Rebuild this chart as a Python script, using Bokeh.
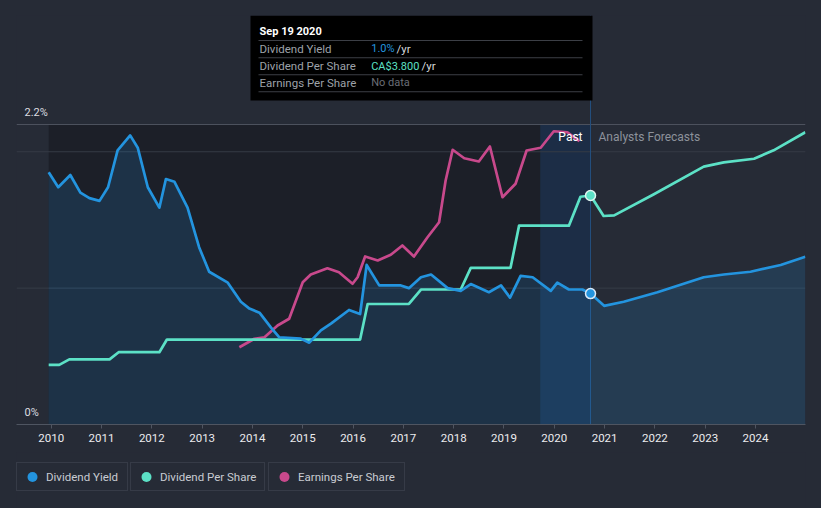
from bokeh.plotting import figure
from bokeh.layouts import column
from bokeh.models import Range1d, FixedTicker, Span, BoxAnnotation, Label, Legend, LegendItem
from bokeh.embed import file_html
from bokeh.resources import INLINE

# ---------------- data ----------------
YEAR_TICKS = list(range(2010, 2025))
Y_TICKS = [0.0, 2.2]
Y_TICK_LABELS = ["0%", "2.2%"]
GRID_LEVELS = [1.0, 2.0]

HOVER_DATE = 2020.72          # Sep 19 2020
HOVER_TITLE = "Sep 19 2020"

yield_past_t = [2009.95, 2010.14, 2010.38, 2010.58, 2010.76, 2010.96, 2011.13, 2011.32,
                2011.57, 2011.72, 2011.92, 2012.15, 2012.28, 2012.45, 2012.71, 2012.94,
                2013.14, 2013.51, 2013.77, 2013.94, 2014.14, 2014.37, 2014.53, 2014.96,
                2015.13, 2015.36, 2015.56, 2015.92, 2016.14, 2016.27, 2016.52, 2016.95,
                2017.11, 2017.35, 2017.55, 2017.88, 2018.14, 2018.34, 2018.70, 2018.94,
                2019.12, 2019.33, 2019.57, 2019.93, 2020.06, 2020.29, 2020.56, 2020.72]
yield_past_v = [1.85, 1.74, 1.83, 1.70, 1.66, 1.64, 1.74, 2.01,
                2.12, 2.03, 1.74, 1.59, 1.80, 1.78, 1.59, 1.30,
                1.12, 1.04, 0.90, 0.85, 0.82, 0.71, 0.64, 0.63,
                0.60, 0.69, 0.74, 0.84, 0.81, 1.17, 1.02, 1.02,
                1.00, 1.08, 1.10, 1.00, 0.98, 1.03, 0.97, 1.02,
                0.93, 1.09, 1.08, 0.98, 1.04, 0.99, 0.99, 0.96]
yield_fc_t = [2020.99, 2021.38, 2022.05, 2022.97, 2023.37, 2023.90, 2024.50, 2024.99]
yield_fc_v = [0.87, 0.90, 0.97, 1.08, 1.10, 1.12, 1.17, 1.23]

dps_past_t = [2009.95, 2010.16, 2010.36, 2011.16, 2011.34, 2012.15, 2012.30, 2016.14,
              2016.29, 2017.11, 2017.35, 2018.14, 2018.34, 2019.13, 2019.30, 2020.29,
              2020.52, 2020.72]
dps_past_v = [0.99, 0.99, 1.08, 1.08, 1.20, 1.20, 1.41, 1.41,
              2.00, 2.00, 2.24, 2.24, 2.60, 2.60, 3.30, 3.30,
              3.78, 3.80]
dps_fc_t = [2020.98, 2021.19, 2021.98, 2022.97, 2023.37, 2023.97, 2024.36, 2024.99]
dps_fc_v = [3.46, 3.47, 3.82, 4.28, 4.35, 4.41, 4.55, 4.85]

eps_t = [2013.74, 2014.04, 2014.24, 2014.50, 2014.73, 2015.00, 2015.16, 2015.49,
         2015.72, 2015.99, 2016.09, 2016.24, 2016.49, 2016.75, 2016.98, 2017.21,
         2017.48, 2017.71, 2017.84, 2017.98, 2018.21, 2018.50, 2018.72, 2018.97,
         2019.23, 2019.45, 2019.73, 2019.99, 2020.26, 2020.50]
eps_v = [3.09, 3.43, 3.49, 3.96, 4.23, 5.69, 6.00, 6.25,
         6.09, 5.63, 5.89, 6.72, 6.56, 6.79, 7.16, 6.72,
         7.49, 8.09, 9.76, 10.99, 10.65, 10.52, 11.12, 9.09,
         9.63, 10.96, 11.07, 11.73, 11.69, 11.33]

SERIES_NAMES = ["Dividend Yield", "Dividend Per Share", "Earnings Per Share"]
TOOLTIP_ROWS = [("Dividend Yield", "1.0%", "/yr"),
                ("Dividend Per Share", "CA$3.800", "/yr"),
                ("Earnings Per Share", "No data", "")]

# ---------------- style ----------------
BG = "#262b36"
C_YIELD = "#2394df"
C_DPS = "#5ce1c6"
C_EPS = "#c8498c"
FONT = "Roboto"
W = 821
H_MAIN = 452
H_LEG = 56

# reference pixel geometry (page coords)
X0_PX, PX_PER_YEAR = 50.7, 50.31
Y0_PX, PX_PER_PCT = 424.0, 136.36
PX_PER_DPS = 60.26
PX_PER_EPS = 25.0
TOP_PX = 15.0
FRAME_LEFT_PX = 16


def X(sx):
    return 2010 + (sx - X0_PX) / PX_PER_YEAR


def Y(sy):
    return (Y0_PX - sy) / PX_PER_PCT


p = figure(width=W, height=H_MAIN, output_backend="svg", toolbar_location=None,
           x_range=Range1d(X(FRAME_LEFT_PX), X(805)), y_range=Range1d(0, Y(TOP_PX)),
           y_axis_location=None,
           min_border_left=FRAME_LEFT_PX, min_border_right=W - 805, min_border_top=int(TOP_PX),
           min_border_bottom=int(H_MAIN - Y0_PX),
           background_fill_color=BG, border_fill_color=None, outline_line_color=None)
p.extra_y_ranges = {"dps": Range1d(0, (Y0_PX - TOP_PX) / PX_PER_DPS),
                    "eps": Range1d(0, (Y0_PX - TOP_PX) / PX_PER_EPS)}
p.xgrid.visible = False
p.ygrid.visible = False

ax = p.xaxis[0]
ax.ticker = FixedTicker(ticks=YEAR_TICKS)
ax.major_label_overrides = {y: str(y) for y in YEAR_TICKS}
ax.minor_tick_line_color = None
ax.axis_line_color = "#4f5561"
ax.major_tick_line_color = "#4f5561"
ax.major_tick_out = 4
ax.major_tick_in = 0
ax.major_label_standoff = 5
ax.major_label_text_color = "#ececee"
ax.major_label_text_font = FONT
ax.major_label_text_font_size = "11.5px"

y_all_t = yield_past_t + yield_fc_t
y_all_v = yield_past_v + yield_fc_v
dps_all_t = dps_past_t + dps_fc_t
dps_all_v = dps_past_v + dps_fc_v
TOP = Y_TICKS[-1]

# past region shading and hover band
p.quad(left=[yield_past_t[0]], right=[HOVER_DATE], bottom=[0], top=[TOP],
       fill_color="#000000", fill_alpha=0.26, line_color=None, level="underlay")
p.quad(left=[HOVER_DATE - 1], right=[HOVER_DATE], bottom=[0], top=[TOP],
       fill_color="#1f68c0", fill_alpha=0.2, line_color=None, level="underlay")

for g in GRID_LEVELS:
    p.add_layout(Span(location=g, dimension="width", line_color="#363b46",
                      line_width=1, level="underlay"))
p.add_layout(Span(location=TOP, dimension="width", line_color="#4c515d",
                  line_width=1, level="underlay"))
p.add_layout(Span(location=HOVER_DATE, dimension="height", line_color="#24507e",
                  line_width=1, level="underlay"))

# series
p.varea(x=y_all_t, y1=[0] * len(y_all_t), y2=y_all_v, fill_color=C_YIELD, fill_alpha=0.17)
p.line(eps_t, eps_v, y_range_name="eps", line_color=C_EPS, line_width=2.7,
       line_join="round")
p.line(dps_all_t, dps_all_v, y_range_name="dps", line_color=C_DPS, line_width=2.7,
       line_join="round")
p.line(y_all_t, y_all_v, line_color=C_YIELD, line_width=2.7, line_join="round")

# hover points
p.scatter(x=[dps_past_t[-1]], y=[dps_past_v[-1]], y_range_name="dps", size=10,
          fill_color=C_DPS, line_color="#dff5f0", line_width=1.5)
p.scatter(x=[yield_past_t[-1]], y=[yield_past_v[-1]], size=10,
          fill_color=C_YIELD, line_color="#dbe9f7", line_width=1.5)

# Past / Forecast labels
p.add_layout(Label(x=HOVER_DATE, y=Y(136), x_offset=-8, text="Past", text_align="right",
                   text_baseline="middle", text_color="#ffffff", text_font=FONT,
                   text_font_size="12px"))
p.add_layout(Label(x=HOVER_DATE, y=Y(136), x_offset=8, text="Analysts Forecasts",
                   text_align="left", text_baseline="middle", text_color="#8d929b",
                   text_font=FONT, text_font_size="12px"))

# y labels
for tv, tl in zip(Y_TICKS, Y_TICK_LABELS):
    p.add_layout(Label(x=X(FRAME_LEFT_PX), x_offset=8, y=tv + 12.3 / PX_PER_PCT, text=tl,
                       text_baseline="middle", text_color="#dcdde0", text_font=FONT,
                       text_font_size="11px"))

# tooltip
p.add_layout(BoxAnnotation(left=X(250), right=X(592), top=Y(15), bottom=Y(100),
                           fill_color="#000000", fill_alpha=1.0, line_color=None,
                           level="overlay"))
for sy in [40, 57.3, 74.3, 91.3]:
    p.add_layout(BoxAnnotation(left=X(258), right=X(582), top=Y(sy - 0.5), bottom=Y(sy + 0.5),
                               fill_color="#3c3f46", fill_alpha=1.0, line_color=None,
                               level="overlay"))
p.add_layout(Label(x=X(259), y=Y(30.7), text=HOVER_TITLE, text_baseline="middle",
                   text_color="#ffffff", text_font=FONT, text_font_style="bold",
                   text_font_size="11px", level="overlay"))
row_y = [48.3, 65.7, 82.3]
val_colors = [C_YIELD, C_DPS, "#6a6e76"]
unit_x = [396.0, 421.0, None]
for (name, val, unit), sy, vc, ux in zip(TOOLTIP_ROWS, row_y, val_colors, unit_x):
    p.add_layout(Label(x=X(259), y=Y(sy), text=name, text_baseline="middle",
                       text_color="#9ea2a9", text_font=FONT, text_font_size="11.5px",
                       level="overlay"))
    p.add_layout(Label(x=X(370.7), y=Y(sy), text=val, text_baseline="middle",
                       text_color=vc, text_font=FONT, text_font_size="11px",
                       level="overlay"))
    if unit:
        p.add_layout(Label(x=X(ux), y=Y(sy), text=unit, text_baseline="middle",
                           text_color="#d6d8dc", text_font=FONT, text_font_size="11.5px",
                           level="overlay"))

# ---------------- legend strip (separate boxes) ----------------
# (its plot frame is aligned with the main frame by the column layout)
lg = figure(width=W, height=H_LEG, output_backend="svg", toolbar_location=None,
            x_range=Range1d(0, 1), y_range=Range1d(0, 1),
            x_axis_location=None, y_axis_location=None,
            min_border=0, background_fill_color=BG, border_fill_color=None,
            outline_line_color=None)
lg.xgrid.visible = False
lg.ygrid.visible = False

LEG_BOTTOM_PX = 491
series_last = [(yield_past_t[-1], yield_past_v[-1]), (dps_past_t[-1], dps_past_v[-1]),
               (eps_t[-1], eps_v[-1])]
legend_specs = [(SERIES_NAMES[0], C_YIELD, 16, 80),
                (SERIES_NAMES[1], C_DPS, 130, 103),
                (SERIES_NAMES[2], C_EPS, 268, 105)]
for (name, color, left, lw), (lx, ly) in zip(legend_specs, series_last):
    # the marker's point lies outside this strip's ranges: only its legend swatch shows
    r = lg.scatter(x=[lx], y=[ly], marker="circle", size=8, fill_color=color, line_color=None)
    leg = Legend(items=[LegendItem(label=name, renderers=[r])],
                 location=(left - FRAME_LEFT_PX, H_MAIN + H_LEG - LEG_BOTTOM_PX),
                 orientation="horizontal",
                 padding=1, margin=0, spacing=0,
                 glyph_width=28, glyph_height=25, label_height=25, label_width=lw,
                 label_standoff=0,
                 border_line_color="#464c58", border_line_width=1,
                 background_fill_color=BG, background_fill_alpha=1.0,
                 label_text_color="#c9ccd2", label_text_font=FONT,
                 label_text_font_size="11.5px")
    lg.add_layout(leg)

layout = column(p, lg, spacing=0)
html = file_html(layout, INLINE)
html = html.replace("</head>", "<style>html, body {background: %s;}</style></head>" % BG, 1)
open("out.html", "w").write(html)
